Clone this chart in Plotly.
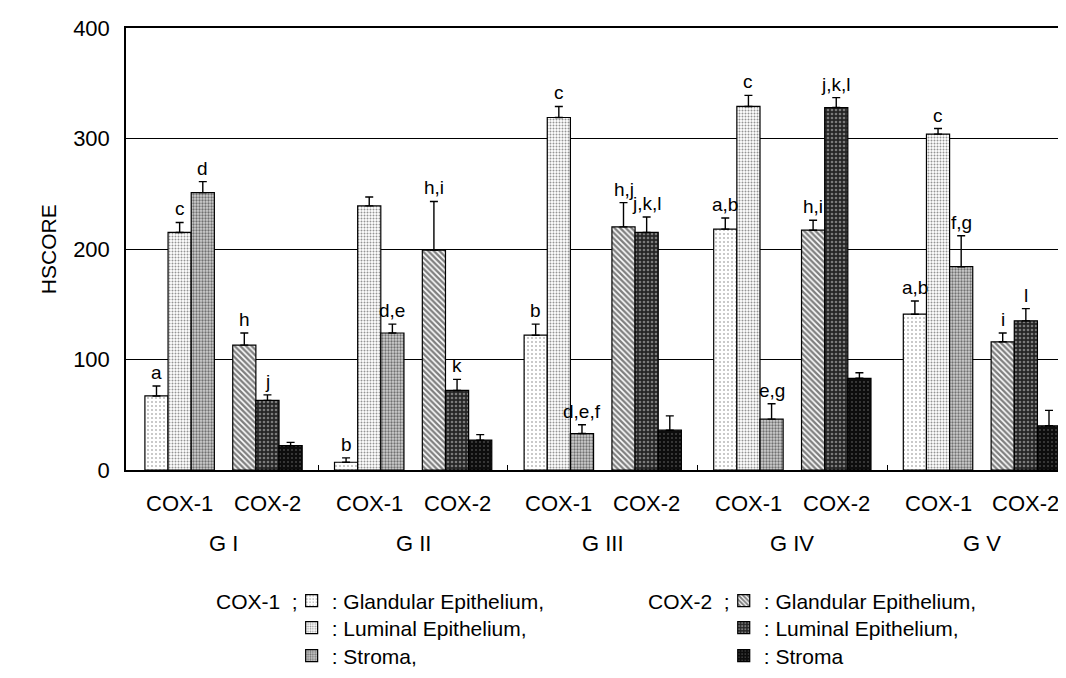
import plotly.graph_objects as go

# ---------------- data ----------------
groups = ["G I", "G II", "G III", "G IV", "G V"]
subgroups = ["COX-1", "COX-2"]
tissue_names_cox1 = [": Glandular Epithelium,", ": Luminal Epithelium,", ": Stroma,"]
tissue_names_cox2 = [": Glandular Epithelium,", ": Luminal Epithelium,", ": Stroma"]

cox1_glandular = [67, 7, 122, 218, 141]
cox1_glandular_err = [9, 4, 10, 10, 12]
cox1_luminal = [215, 239, 319, 329, 304]
cox1_luminal_err = [9, 8, 10, 10, 5]
cox1_stroma = [251, 124, 33, 46, 184]
cox1_stroma_err = [10, 8, 8, 14, 28]
cox2_glandular = [113, 199, 220, 217, 116]
cox2_glandular_err = [11, 44, 22, 9, 8]
cox2_luminal = [63, 72, 215, 328, 135]
cox2_luminal_err = [5, 10, 14, 9, 11]
cox2_stroma = [22, 27, 36, 83, 40]
cox2_stroma_err = [3, 5, 13, 5, 14]

cox1_glandular_lbl = ["a", "b", "b", "a,b", "a,b"]
cox1_luminal_lbl = ["c", "", "c", "c", "c"]
cox1_stroma_lbl = ["d", "d,e", "d,e,f", "e,g", "f,g"]
cox2_glandular_lbl = ["h", "h,i", "h,j", "h,i", "i"]
cox2_luminal_lbl = ["j", "k", "j,k,l", "j,k,l", "l"]
cox2_stroma_lbl = ["", "", "", "", ""]

y_ticks = [0, 100, 200, 300, 400]

# ---------------- styling ----------------
FONT = "Liberation Sans, Arial, sans-serif"
BAR_W = 0.1221
SUB_OFF = 0.4632
PL, PR, PT, PB = 118, 1063, 20, 462  # plot area in pixels


def px_x(p):
    return (p - PL) / (PR - PL)


def px_y(p):
    return (PB - p) / (PB - PT)


patterns = [
    dict(shape=".", fgcolor="#7a7a7a", bgcolor="white", size=4, solidity=0.22),
    dict(shape=".", fgcolor="#2a2a2a", bgcolor="white", size=3, solidity=0.34),
    dict(shape=".", fgcolor="#111111", bgcolor="#cfcfcf", size=3, solidity=0.45),
    dict(shape="\\", fgcolor="#000000", bgcolor="white", size=4, solidity=0.6),
    dict(shape=".", fgcolor="#cfcfcf", bgcolor="#262626", size=4, solidity=0.33),
    dict(shape=".", fgcolor="#7a7a7a", bgcolor="#0d0d0d", size=4, solidity=0.2),
]

series = [
    (0, 0, cox1_glandular, cox1_glandular_err, cox1_glandular_lbl, tissue_names_cox1[0]),
    (0, 1, cox1_luminal, cox1_luminal_err, cox1_luminal_lbl, tissue_names_cox1[1]),
    (0, 2, cox1_stroma, cox1_stroma_err, cox1_stroma_lbl, tissue_names_cox1[2]),
    (1, 0, cox2_glandular, cox2_glandular_err, cox2_glandular_lbl, tissue_names_cox2[0]),
    (1, 1, cox2_luminal, cox2_luminal_err, cox2_luminal_lbl, tissue_names_cox2[1]),
    (1, 2, cox2_stroma, cox2_stroma_err, cox2_stroma_lbl, tissue_names_cox2[2]),
]

legend_rows_px = [593, 620, 648]
legend_left_px = [284, 717]

fig = go.Figure()
annotations = []
legend_layouts = {}

for i, (s, k, vals, errs, lbls, name) in enumerate(series):
    leg = "legend" if i == 0 else "legend%d" % (i + 1)
    xs = [g + (s - 0.5) * SUB_OFF + (k - 1) * BAR_W for g in range(len(groups))]
    fig.add_trace(go.Bar(
        x=xs, y=vals, width=BAR_W, name=name, legend=leg,
        marker=dict(color="white", pattern=patterns[i],
                    line=dict(color="black", width=1.2)),
        error_y=dict(type="data", symmetric=False, array=errs,
                     arrayminus=[0] * len(errs), color="black",
                     thickness=1.4, width=4),
    ))
    legend_layouts[leg] = dict(
        x=px_x(legend_left_px[s]), y=px_y(legend_rows_px[k]),
        xanchor="left", yanchor="middle", bgcolor="rgba(0,0,0,0)",
        font=dict(family=FONT, size=21, color="black"))
    for x, v, e, t in zip(xs, vals, errs, lbls):
        if t:
            annotations.append(dict(
                x=x, y=v + e, xref="x", yref="y", text=t, showarrow=False,
                yanchor="bottom", yshift=1,
                font=dict(family=FONT, size=19, color="black")))

# category labels
for g, gname in enumerate(groups):
    for s, sname in enumerate(subgroups):
        annotations.append(dict(
            x=g + (s - 0.5) * SUB_OFF, y=0, xref="x", yref="paper",
            text=sname, showarrow=False, yanchor="middle", yshift=-33,
            font=dict(family=FONT, size=22, color="black")))
    annotations.append(dict(
        x=g, y=0, xref="x", yref="paper", text=gname, showarrow=False,
        yanchor="middle", yshift=-73,
        font=dict(family=FONT, size=22, color="black")))

# y title
annotations.append(dict(
    x=px_x(40), y=0.5, xref="paper", yref="paper", text="HSCORE",
    textangle=-90, showarrow=False, xanchor="center", yanchor="middle",
    font=dict(family=FONT, size=21, color="black")))

# legend prefixes
annotations.append(dict(
    x=px_x(292), y=px_y(legend_rows_px[0]), xref="paper", yref="paper",
    text="COX-1&nbsp;&nbsp;;", showarrow=False, xanchor="right", yanchor="middle",
    font=dict(family=FONT, size=21, color="black")))
annotations.append(dict(
    x=px_x(725), y=px_y(legend_rows_px[0]), xref="paper", yref="paper",
    text="COX-2&nbsp;&nbsp;;", showarrow=False, xanchor="right", yanchor="middle",
    font=dict(family=FONT, size=21, color="black")))

boundaries = [g + 0.5 for g in range(len(groups) - 1)]

fig.update_layout(
    width=1066, height=678,
    margin=dict(l=PL, r=1066 - PR, t=PT, b=678 - PB),
    paper_bgcolor="white", plot_bgcolor="white",
    font=dict(family=FONT, size=21, color="black"),
    barmode="overlay",
    showlegend=True,
    annotations=annotations,
    xaxis=dict(range=[-0.5145, 4.4592], showgrid=False, zeroline=False,
               showline=True, mirror=True, linecolor="black", linewidth=1.5,
               tickvals=boundaries, ticks="inside", ticklen=5,
               tickcolor="black", showticklabels=False),
    yaxis=dict(range=[0, 400], tickvals=y_ticks, showgrid=True,
               gridcolor="black", gridwidth=1, zeroline=False,
               showline=True, mirror=True, linecolor="black", linewidth=1.5,
               ticks="", ticklabelstandoff=10,
               tickfont=dict(family=FONT, size=22, color="black")),
    **legend_layouts,
)

fig.write_html("out.html")
